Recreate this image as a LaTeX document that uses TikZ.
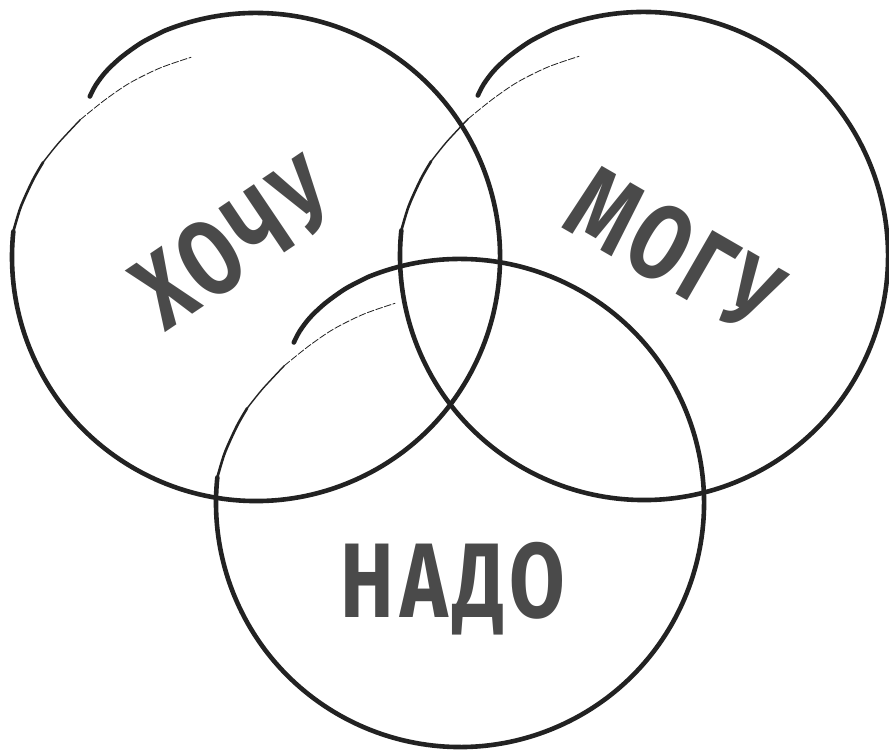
\documentclass[tikz,border=0pt]{standalone}
\usepackage{fontspec}
\setmainfont{Fira Sans}
\usepackage{xcolor}
\usepackage{tikz}
\definecolor{vnink}{HTML}{222222}
\definecolor{vnword}{HTML}{4A4A4A}
\tikzset{
  brush/.style={draw=vnink, line cap=round, line join=round},
  word/.style={
    text=vnword,
    font=\fontsize{106}{106}\selectfont\bfseries\addfontfeature{LetterSpace=7},
    inner sep=0pt, anchor=base, xscale=0.76
  },
  ring/.pic={
    \draw[brush, line width=4.6pt] plot[smooth] coordinates {
      (136:231) (133:235) (129:238.5) (124:241) (118:243) (112:244)}
      arc[start angle=112, end angle=-186, radius=244];
    \draw[brush, line width=2.6pt] plot[smooth] coordinates {
      (-186:244) (-192:240.5) (-199:236) (-204:233)};
    \draw[brush, line width=1.4pt] plot[smooth] coordinates {
      (-204:233) (-210:228) (-218:223)};
    \draw[brush, line width=0.8pt, dash pattern=on 7pt off 2pt] plot[smooth] coordinates {
      (-218:223) (-226:218) (-234:215) (-243:212) (-252:210)};
  }
}

\begin{document}
\begin{tikzpicture}[x=1pt,y=1pt]
  \useasboundingbox (0,0) rectangle (889,752);
  \pic (wantring) at (256,495) {ring};
  \pic (canring) at (644,496) {ring};
  \pic (mustring) at (460,249) {ring};
  \node[rotate=34, word] (want) at (254,479) {ХОЧУ};
  \node[rotate=-30, word] (can) at (656,470) {МОГУ};
  \node[word] (must) at (453,134) {НАДО};
\end{tikzpicture}
\end{document}
